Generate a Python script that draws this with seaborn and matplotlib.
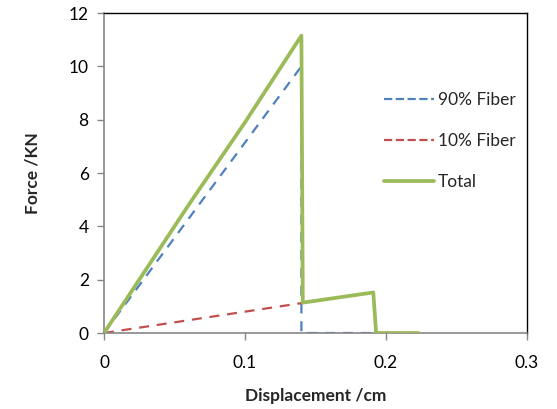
import matplotlib
matplotlib.use("Agg")
import matplotlib.pyplot as plt
import seaborn as sns

# Load–displacement curves (displacement in cm, force in kN)
disp_90 = [0.0, 0.14, 0.14, 0.192]
force_90 = [0.0, 10.0, 0.0, 0.0]

disp_10 = [0.0, 0.14, 0.191, 0.193, 0.223]
force_10 = [0.0, 1.12, 1.52, 0.0, 0.0]

disp_total = [0.0, 0.06, 0.1, 0.14, 0.141, 0.191, 0.193, 0.223]
force_total = [0.0, 4.8, 7.9, 11.15, 1.14, 1.52, 0.0, 0.0]

series_names = ["90% Fiber", "10% Fiber", "Total"]
x_ticks = [0, 0.1, 0.2, 0.3]
x_tick_labels = ["0", "0.1", "0.2", "0.3"]
y_ticks = [0, 2, 4, 6, 8, 10, 12]

sns.set_style("white")
plt.rcParams["font.family"] = ["Lato", "DejaVu Sans"]

fig = plt.figure(figsize=(5.57, 4.09), dpi=100)
ax = fig.add_axes([104 / 557, 1 - 333 / 409, 423 / 557, 320 / 409])

blue = "#4F81BD"
red = "#C0504D"
green = "#9BBB59"

common = dict(sort=False, estimator=None, errorbar=None, ax=ax)
sns.lineplot(x=disp_90, y=force_90, color=blue, linewidth=1.6,
             label=series_names[0], **common)
sns.lineplot(x=disp_10, y=force_10, color=red, linewidth=1.6,
             label=series_names[1], **common)
sns.lineplot(x=disp_total, y=force_total, color=green, linewidth=2.7,
             label=series_names[2], **common)

for line in ax.lines[:2]:
    line.set_linestyle((0, (4.5, 3.5)))
ax.lines[2].set_zorder(3)

ax.set_xlim(0, 0.3)
ax.set_ylim(0, 12)
ax.set_xticks(x_ticks)
ax.set_xticklabels(x_tick_labels)
ax.set_yticks(y_ticks)
ax.tick_params(axis="both", which="both", direction="out", length=5,
               width=1, color="#868686", labelsize=12.5, labelcolor="#000000",
               left=True, bottom=True, pad=6)
ax.tick_params(axis="x", pad=11)

for side in ("left", "bottom"):
    ax.spines[side].set_color("#868686")
    ax.spines[side].set_linewidth(1.2)
for side in ("top", "right"):
    ax.spines[side].set_color("#000000")
    ax.spines[side].set_linewidth(1.0)

ax.set_xlabel("Displacement /cm", fontsize=12.5, fontweight="bold", labelpad=12)
ax.set_ylabel("Force /KN", fontsize=12.5, fontweight="bold", labelpad=20)

leg = ax.legend(loc="upper left", bbox_to_anchor=(0.645, 0.775), frameon=False,
                fontsize=12.5, handlelength=2.9, handletextpad=0.2,
                labelspacing=1.45, borderaxespad=0)
for h, src in zip(leg.get_lines(), ax.lines):
    h.set_linestyle(src.get_linestyle())

fig.savefig("out.png", dpi=100, facecolor="white")
